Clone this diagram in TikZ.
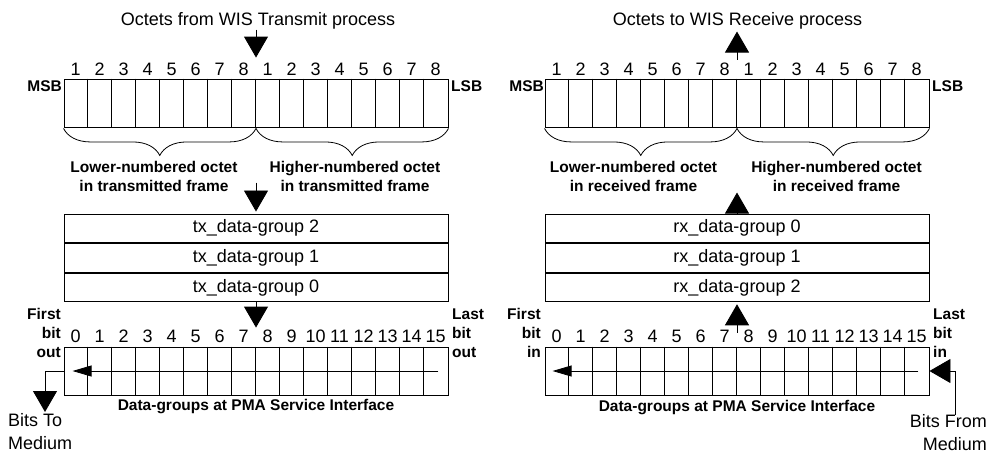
\documentclass[tikz,border=0pt]{standalone}
\usepackage{fontspec}
\setmainfont{Liberation Sans}
\usetikzlibrary{arrows.meta,decorations.pathreplacing,positioning}

\tikzset{
  reg/.style={draw, line width=0.9pt, minimum width=384pt, minimum height=48pt, inner sep=0pt},
  platte/.style={draw, line width=0.9pt, minimum width=384pt, minimum height=28.67pt, inner sep=0pt, font=\fontsize{18}{20}\selectfont},
  teiler/.style={line width=0.9pt},
  pfeil/.style={line width=0.9pt, -{Triangle[length=21pt,width=24pt]}},
  kpfeil/.style={line width=0.8pt, -{Triangle[length=19pt,width=11pt]}},
  klammer/.style={decorate, decoration={brace, amplitude=27pt, mirror}, line width=0.8pt},
  fett/.style={font=\fontsize{15.5}{19}\selectfont\bfseries, inner sep=0pt},
  normal/.style={font=\fontsize{18}{23}\selectfont, inner sep=0pt},
  nummer/.style={font=\fontsize{18}{18}\selectfont, inner sep=0pt},
}

\begin{document}
\begin{tikzpicture}[x=1pt, y=-1pt]
    \useasboundingbox (0,0) rectangle (990,453);

    %Senden (links)
    \node[normal] (txtitel) at (258,21) {Octets from WIS Transmit process};
    \node[reg] (txoct) at (256,103) {};
    \foreach \i in {1,...,15}
        \draw[teiler] ([xshift=\i*24pt]txoct.north west) -- ([xshift=\i*24pt]txoct.south west);
    \foreach \n [count=\i from 0] in {1,2,3,4,5,6,7,8,1,2,3,4,5,6,7,8}
        \node[nummer] (txn\i) at ([xshift=12pt+\i*24pt, yshift=9pt]txoct.north west) {\n};
    \node[fett, anchor=east] (txmsb) at (62,86) {MSB};
    \node[fett, anchor=west] (txlsb) at (451,86) {LSB};
    \draw[klammer] ([yshift=-1pt]txoct.south west) -- ([yshift=-1pt]txoct.south);
    \draw[klammer] ([yshift=-1pt]txoct.south) -- ([yshift=-1pt]txoct.south east);
    \node[fett, align=center] (txlow) at (154,176.5) {Lower-numbered octet\\in transmitted frame};
    \node[fett, align=center] (txhigh) at (355,176.5) {Higher-numbered octet\\in transmitted frame};

    \node[platte] (txg2) at (256,228.33) {tx\_data-group 2};
    \node[platte, below=0pt of txg2] (txg1) {tx\_data-group 1};
    \node[platte, below=0pt of txg1] (txg0) {tx\_data-group 0};

    \node[reg] (txbit) at (256,371) {};
    \foreach \i in {1,...,15}
        \draw[teiler] ([xshift=\i*24pt]txbit.north west) -- ([xshift=\i*24pt]txbit.south west);
    \foreach \i in {0,...,15}
        \node[nummer] (txb\i) at ([xshift=12pt+\i*24pt, yshift=10pt]txbit.north west) {\i};
    \node[fett, align=right, anchor=east] (txfirst) at (61,333) {First\\bit\\out};
    \node[fett, align=left, anchor=west] (txlast) at (452,333) {Last\\bit\\out};
    \node[fett] (txpma) at (256,407) {Data-groups at PMA Service Interface};
    \node[normal, align=left, anchor=west] (txmed) at (8,432) {Bits To\\Medium};

    %Pfeile links
    \draw[pfeil] (txtitel.south -| txoct.north) -- ([yshift=21pt]txoct.north);
    \draw[pfeil] ([yshift=31pt]txg2.north) -- ([yshift=2pt]txg2.north);
    \draw[pfeil] (txg0.south) -- ([yshift=19pt]txbit.north);
    \draw[kpfeil] ([xshift=-10pt]txbit.east) -- ([xshift=9pt]txbit.west);
    \coordinate (txaus) at (45,412);
    \draw[pfeil] (txbit.west) -| (txaus);

    %Empfangen (rechts)
    \node[normal] (rxtitel) at (737.5,21) {Octets to WIS Receive process};
    \node[reg] (rxoct) at (737,103) {};
    \foreach \i in {1,...,15}
        \draw[teiler] ([xshift=\i*24pt]rxoct.north west) -- ([xshift=\i*24pt]rxoct.south west);
    \foreach \n [count=\i from 0] in {1,2,3,4,5,6,7,8,1,2,3,4,5,6,7,8}
        \node[nummer] (rxn\i) at ([xshift=12pt+\i*24pt, yshift=9pt]rxoct.north west) {\n};
    \node[fett, anchor=east] (rxmsb) at (544,86) {MSB};
    \node[fett, anchor=west] (rxlsb) at (932,86) {LSB};
    \draw[klammer] ([yshift=-1pt]rxoct.south west) -- ([yshift=-1pt]rxoct.south);
    \draw[klammer] ([yshift=-1pt]rxoct.south) -- ([yshift=-1pt]rxoct.south east);
    \node[fett, align=center] (rxlow) at (633.5,176.5) {Lower-numbered octet\\in received frame};
    \node[fett, align=center] (rxhigh) at (836.5,176.5) {Higher-numbered octet\\in received frame};

    \node[platte] (rxg0) at (737,228.33) {rx\_data-group 0};
    \node[platte, below=0pt of rxg0] (rxg1) {rx\_data-group 1};
    \node[platte, below=0pt of rxg1] (rxg2) {rx\_data-group 2};

    \node[reg] (rxbit) at (737,371) {};
    \foreach \i in {1,...,15}
        \draw[teiler] ([xshift=\i*24pt]rxbit.north west) -- ([xshift=\i*24pt]rxbit.south west);
    \foreach \i in {0,...,15}
        \node[nummer] (rxb\i) at ([xshift=12pt+\i*24pt, yshift=10pt]rxbit.north west) {\i};
    \node[fett, align=right, anchor=east] (rxfirst) at (541,333) {First\\bit\\in};
    \node[fett, align=left, anchor=west] (rxlast) at (933,333) {Last\\bit\\in};
    \node[fett] (rxpma) at (737,408) {Data-groups at PMA Service Interface};
    \node[normal, align=right, anchor=east] (rxmed) at (987,433) {Bits From\\Medium};

    %Pfeile rechts
    \draw[pfeil] ([yshift=19pt]rxoct.north) -- ([yshift=47pt]rxoct.north);
    \draw[pfeil] ([yshift=1pt]rxg0.north) -- ([yshift=21pt]rxg0.north);
    \draw[pfeil] ([yshift=14pt]rxbit.north) -- ([yshift=-2pt]rxg2.south);
    \draw[kpfeil] ([xshift=-11pt]rxbit.east) -- ([xshift=8pt]rxbit.west);
    \coordinate (rxein) at (955,415);
    \draw[pfeil] (rxein) |- (rxbit.east);
\end{tikzpicture}
\end{document}
